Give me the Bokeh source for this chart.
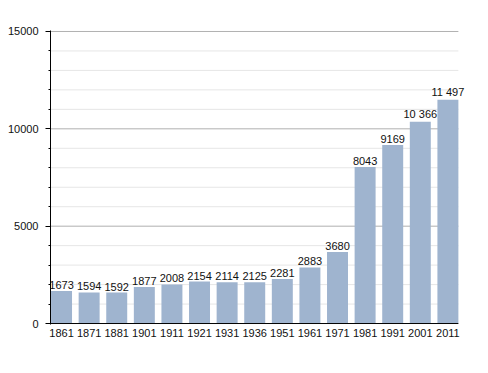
from bokeh.plotting import figure
from bokeh.models import ColumnDataSource, FixedTicker, Range1d, Label
from bokeh.embed import file_html
from bokeh.resources import INLINE

years = ["1861", "1871", "1881", "1901", "1911", "1921", "1931", "1936",
         "1951", "1961", "1971", "1981", "1991", "2001", "2011"]
population = [1673, 1594, 1592, 1877, 2008, 2154, 2114, 2125,
              2281, 2883, 3680, 8043, 9169, 10366, 11497]
value_labels = ["1673", "1594", "1592", "1877", "2008", "2154", "2114", "2125",
                "2281", "2883", "3680", "8043", "9169", "10 366", "11 497"]
y_ticks = [0, 5000, 10000, 15000]
y_minor = [v for v in range(0, 15001, 1000) if v not in y_ticks]

xs = list(range(len(years)))
src = ColumnDataSource(dict(x=xs, pop=population, lab=value_labels))

x_lo, x_hi = -0.4, len(years) - 1 + 0.38

p = figure(width=488, height=365, output_backend="svg", toolbar_location=None,
           x_range=Range1d(x_lo, 15.0), y_range=Range1d(-50, 15050),
           min_border_left=50, min_border_right=13, min_border_top=30, min_border_bottom=41)
p.outline_line_color = None
p.background_fill_color = "white"
p.xgrid.grid_line_color = None
p.ygrid.grid_line_color = None

# grid lines limited to the bar area
p.segment(x0=[x_lo] * len(y_minor), x1=[x_hi] * len(y_minor), y0=y_minor, y1=y_minor,
          line_color="#e6e6e6", line_width=1)
maj = y_ticks[1:]
p.segment(x0=[x_lo] * len(maj), x1=[x_hi] * len(maj), y0=maj, y1=maj,
          line_color="#b0b0b0", line_width=1)

p.vbar(x="x", top="pop", width=0.76, source=src, fill_color="#9fb4cf", line_color=None)

# baseline
p.segment(x0=[x_lo], x1=[x_hi], y0=[0], y1=[0], line_color="black", line_width=1)

for xi, yi, t in zip(xs, population, value_labels):
    p.add_layout(Label(x=xi, y=yi, text=t, text_align="center", text_baseline="bottom",
                       y_offset=2, text_font="Liberation Sans", text_font_size="11px",
                       text_color="#111111"))

# x axis
p.xaxis.ticker = FixedTicker(ticks=xs)
p.xaxis.major_label_overrides = {i: y for i, y in enumerate(years)}
p.xaxis.major_tick_out = 0
p.xaxis.major_tick_in = 0
p.xaxis.major_tick_line_color = None
p.xaxis.minor_tick_line_color = None
p.xaxis.axis_line_color = None
p.xaxis.major_label_text_font = "Liberation Sans"
p.xaxis.major_label_text_font_size = "11px"
p.xaxis.major_label_text_color = "#111111"
p.xaxis.major_label_standoff = 4

# y axis
p.yaxis.ticker = FixedTicker(ticks=y_ticks, minor_ticks=list(range(0, 15001, 1000)))
p.yaxis.axis_line_color = "black"
p.yaxis.major_tick_in = 0
p.yaxis.major_tick_out = 5
p.yaxis.minor_tick_in = 0
p.yaxis.minor_tick_out = 2
p.yaxis.major_tick_line_color = "black"
p.yaxis.minor_tick_line_color = "black"
p.yaxis.major_label_text_font = "Liberation Sans"
p.yaxis.major_label_text_font_size = "11px"
p.yaxis.major_label_text_color = "#111111"
p.yaxis.major_label_standoff = 7

open("out.html", "w").write(file_html(p, INLINE))
